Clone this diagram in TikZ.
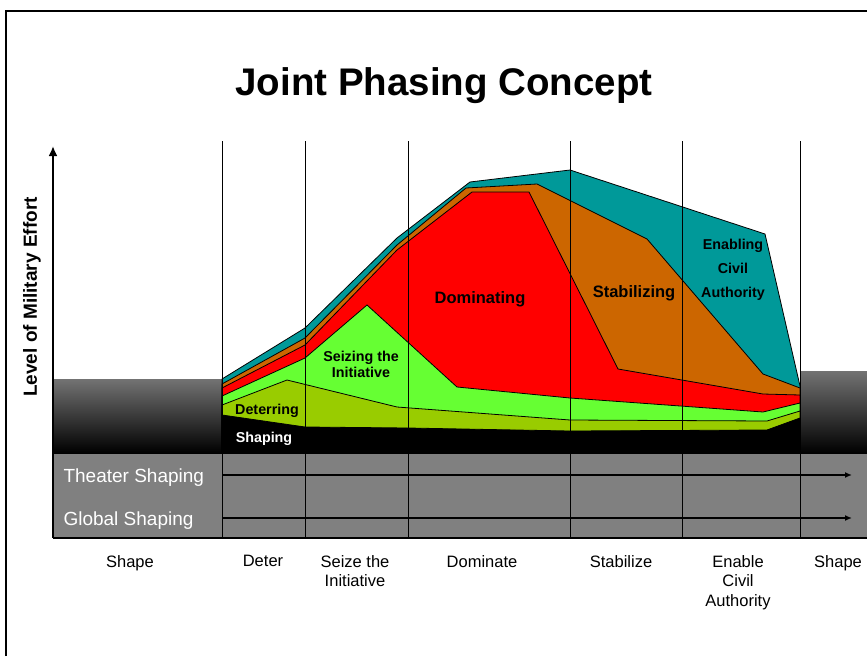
\documentclass[tikz,border=0pt]{standalone}
\usepackage{fontspec}
\setmainfont{Liberation Sans}
\usetikzlibrary{arrows.meta}
\definecolor{enablecol}{HTML}{009999}
\definecolor{stabcol}{HTML}{CC6600}
\definecolor{domcol}{HTML}{FF0000}
\definecolor{seizecol}{HTML}{66FF33}
\definecolor{detercol}{HTML}{99CC00}
\definecolor{bandgray}{HTML}{808080}
\begin{document}
\begin{tikzpicture}[x=1pt, y=-1pt,
    layer/.style={draw=black, line width=0.8pt, fill=#1},
    grayblock/.style={draw=black!55, line width=0.6pt, top color=black!55, bottom color=black},
    phaseline/.style={draw=black, line width=0.8pt},
    axis/.style={-{Latex[length=10pt, width=9pt]}, line width=2.4pt},
    track/.style={-{Latex[length=7pt, width=6pt]}, line width=1.4pt},
    area/.style={font=\fontsize{14.3}{16}\selectfont\bfseries, align=center},
    bigarea/.style={font=\fontsize{16.5}{19}\selectfont\bfseries, align=center},
    phase/.style={font=\fontsize{16.5}{19.5}\selectfont, align=center, anchor=north},
    bandtext/.style={font=\fontsize{19}{22}\selectfont, text=white, anchor=west},
  ]
    \useasboundingbox (0,0) rectangle (867,656);

    % Frame and title
    \draw[line width=1.5pt] (6,656) -- (6,11) -- (867,11);
    \node[font=\fontsize{38.5}{44}\selectfont\bfseries] (title) at (444,86) {Joint Phasing Concept};

    % Shaping blocks either side
    \draw[grayblock] (53,379) rectangle (222,453);
    \draw[grayblock] (800,371) rectangle (867,453);

    % Effort layers, top one first
    \draw[layer=enablecol] (222,379) -- (305,328) -- (397,238) -- (470,182) -- (570,170)
        -- (765,234) -- (800,386) -- (800,453) -- (222,453) -- cycle;
    \draw[layer=stabcol] (222,384) -- (305,338) -- (397,245) -- (466,188) -- (537,184)
        -- (647,239) -- (763,374) -- (800,388) -- (800,453) -- (222,453) -- cycle;
    \draw[layer=domcol] (222,388) -- (305,345) -- (397,250) -- (472,192) -- (529,192)
        -- (618,369) -- (763,394) -- (800,395) -- (800,453) -- (222,453) -- cycle;
    \draw[layer=seizecol] (222,396) -- (305,358) -- (367,305) -- (457,387) -- (570,398)
        -- (763,412) -- (800,403) -- (800,453) -- (222,453) -- cycle;
    \draw[layer=detercol] (222,405) -- (287,380) -- (397,407) -- (570,420) -- (767,421)
        -- (800,411) -- (800,453) -- (222,453) -- cycle;
    \draw[layer=black] (222,415) -- (305,427) -- (408,428) -- (570,431) -- (767,430)
        -- (800,418) -- (800,453) -- (222,453) -- cycle;

    \node[area, text=white] (shaping) at (264,439) {Shaping};
    \node[area] (deterring) at (267,411) {Deterring};
    \node[area] (seizing) at (361,364) {Seizing the\\Initiative};
    \node[bigarea] (dominating) at (480,299) {Dominating};
    \node[bigarea] (stabilizing) at (634,293) {Stabilizing};
    \node[area, font=\fontsize{14.3}{24}\selectfont\bfseries] (enabling) at (733,270) {Enabling\\Civil\\Authority};

    % Shaping band
    \fill[bandgray] (53,453) rectangle (867,538);
    \draw[line width=0.8pt] (53,453) -- (867,453);
    \node[bandtext] (theater) at (60,478) {Theater Shaping};
    \node[bandtext] (global) at (60,521) {Global Shaping};

    % Phase lines
    \foreach \px in {222,305,408,570,682,800}
      \draw[phaseline] (\px,141) -- (\px,538);

    % Shaping tracks
    \coordinate (theater-start) at (222,475);
    \coordinate (theater-end) at (852,475);
    \coordinate (global-start) at (222,518);
    \coordinate (global-end) at (852,518);
    \draw[track] (theater-start) -- (theater-end);
    \draw[track] (global-start) -- (global-end);

    % Axes
    \coordinate (origin) at (53,538);
    \coordinate (ytop) at (53,146);
    \coordinate (xend) at (867,538);
    \draw[axis] (origin) -- (ytop);
    \draw[line width=2pt] (origin) -- (xend);
    \node[font=\fontsize{19}{22}\selectfont\bfseries, rotate=90] (ylabel) at (32,297) {Level of Military Effort};

    % Phase names
    \node[phase] (shape-a) at (130,552) {Shape};
    \node[phase] (deter) at (263,552) {Deter};
    \node[phase] (seize) at (355,552) {Seize the\\Initiative};
    \node[phase] (dominate) at (482,552) {Dominate};
    \node[phase] (stabilize) at (621,552) {Stabilize};
    \node[phase] (enable) at (738,552) {Enable\\Civil\\Authority};
    \node[phase] (shape-b) at (838,552) {Shape};
  \end{tikzpicture}
\end{document}
